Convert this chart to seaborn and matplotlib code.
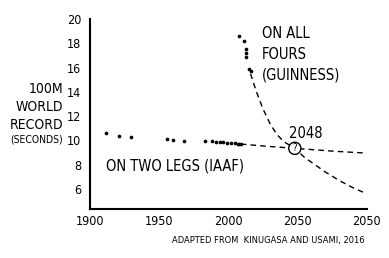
import matplotlib
matplotlib.use("Agg")
import matplotlib.pyplot as plt
import seaborn as sns
import pandas as pd
from matplotlib.patches import Ellipse

# ---- data ----
two_legs_years = [1912, 1921, 1930, 1956, 1960, 1968, 1983, 1988, 1991, 1994, 1996, 1999, 2002, 2005, 2007, 2008, 2009]
two_legs_times = [10.6, 10.4, 10.3, 10.1, 10.0, 9.95, 9.93, 9.92, 9.86, 9.85, 9.84, 9.79, 9.78, 9.77, 9.74, 9.72, 9.69]

four_legs_years = [2008, 2011, 2013, 2013, 2013, 2015, 2016]
four_legs_times = [18.6, 18.2, 17.5, 17.2, 16.9, 15.9, 15.7]

two_trend_years = [2009, 2030, 2048, 2075, 2100]
two_trend_times = [9.7, 9.5, 9.35, 9.12, 8.95]

four_trend_years = [2016, 2020, 2025, 2030, 2035, 2040, 2048, 2055, 2060, 2070, 2080, 2090, 2100]
four_trend_times = [15.5, 14.1, 12.6, 11.4, 10.5, 9.9, 9.35, 8.6, 8.2, 7.4, 6.7, 6.1, 5.6]

x_ticks = [1900, 1950, 2000, 2050, 2100]
x_tick_labels = ["1900", "1950", "2000", "2050", "2050"]
y_ticks = [6, 8, 10, 12, 14, 16, 18, 20]

cross_year = 2048
cross_time = 9.35

sns.set_theme(style="white")
plt.rcParams["font.family"] = ["DejaVu Sans"]
plt.rcParams["font.stretch"] = "condensed"
plt.rcParams["text.color"] = "black"
plt.rcParams["xtick.color"] = "black"
plt.rcParams["ytick.color"] = "black"

df_two = pd.DataFrame({"year": two_legs_years, "time": two_legs_times})
df_four = pd.DataFrame({"year": four_legs_years, "time": four_legs_times})
df_two_t = pd.DataFrame({"year": two_trend_years, "time": two_trend_times})
df_four_t = pd.DataFrame({"year": four_trend_years, "time": four_trend_times})

fig = plt.figure(figsize=(3.89, 2.58), dpi=100)
ax = fig.add_axes([0.231, 0.19, 0.712, 0.736])

sns.lineplot(data=df_two_t, x="year", y="time", ax=ax, color="black",
             linestyle=(0, (4, 3)), linewidth=1.0)
sns.lineplot(data=df_four_t, x="year", y="time", ax=ax, color="black",
             linestyle=(0, (4, 3)), linewidth=1.0)
sns.scatterplot(data=df_two, x="year", y="time", ax=ax, color="black",
                s=7, linewidth=0, zorder=5)
sns.scatterplot(data=df_four, x="year", y="time", ax=ax, color="black",
                s=7, linewidth=0, zorder=5)

ax.set_xlim(1900, 2100)
ax.set_ylim(4.35, 20)
ax.set_xticks(x_ticks)
ax.set_xticklabels(x_tick_labels)
ax.set_yticks(y_ticks)
ax.set_xlabel("")
ax.set_ylabel("")

for s in ["top", "right"]:
    ax.spines[s].set_visible(False)
for s in ["left", "bottom"]:
    ax.spines[s].set_color("black")
    ax.spines[s].set_linewidth(1.5)

ax.tick_params(axis="x", direction="in", length=5, width=1.2, labelsize=9, pad=4)
ax.tick_params(axis="y", direction="inout", length=6, width=1.2, labelsize=9, pad=3)
ax.xaxis.get_major_ticks()[0].tick1line.set_visible(False)

# crossing marker
circ = Ellipse((cross_year, cross_time), width=8.8, height=1.0, transform=ax.transData,
               facecolor="white", edgecolor="black", linewidth=1.0, zorder=6)
ax.add_patch(circ)
ax.text(cross_year, cross_time, "?", ha="center", va="center", fontsize=7, zorder=7)
ax.text(2044, 10.6, "2048", ha="left", va="center", fontsize=10.5)

ax.text(2024, 19.4, "ON ALL\nFOURS\n(GUINNESS)", ha="left", va="top", fontsize=10.5, linespacing=1.45)
ax.text(1911.5, 7.9, "ON TWO LEGS (IAAF)", ha="left", va="center", fontsize=10.5)

fig.text(63 / 389, 1 - 107 / 258, "100M\nWORLD\nRECORD", ha="right", va="center",
         fontsize=10, linespacing=1.35)
fig.text(63 / 389, 1 - 140 / 258, "(SECONDS)", ha="right", va="center", fontsize=7.5)

fig.text(365 / 389, 1 - 241 / 258, "ADAPTED FROM  KINUGASA AND USAMI, 2016", ha="right",
         va="center", fontsize=6.7)

fig.savefig("out.png", dpi=100, facecolor="white")
